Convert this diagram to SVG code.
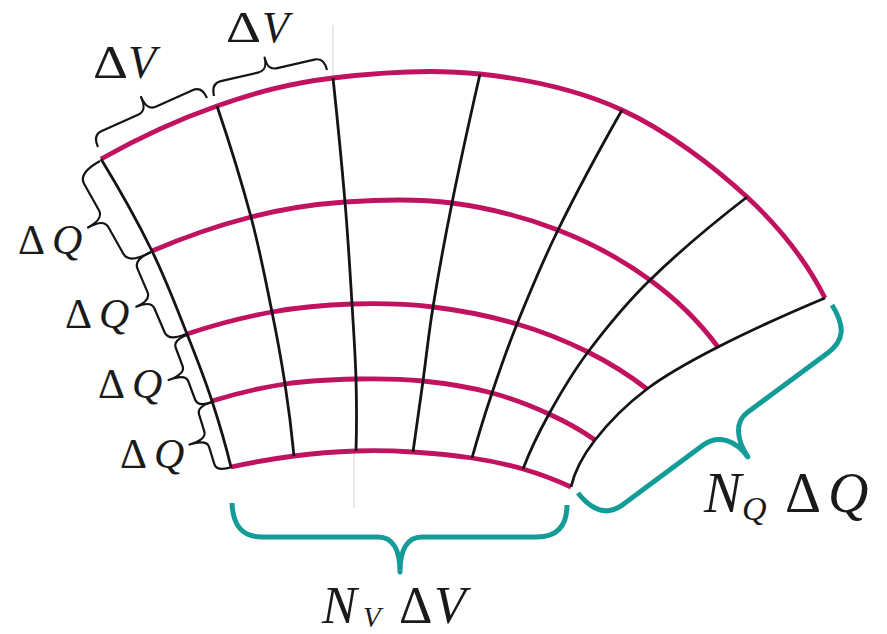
<svg xmlns="http://www.w3.org/2000/svg" width="887" height="634" viewBox="0 0 887 634">
<style>
.q{fill:none;stroke:#c0125f;stroke-width:4.8;stroke-linecap:butt}
.v{fill:none;stroke:#141414;stroke-width:2.8}
.br{fill:none;stroke:#141414;stroke-width:2.2;stroke-linejoin:round}
.tb{fill:none;stroke:#149c98;stroke-width:5;stroke-linecap:butt;stroke-linejoin:round}
.faint{fill:none;stroke:#d4d4d4;stroke-width:1}
text{font-family:"Liberation Serif","Times New Roman",serif;fill:#1a1a1a}
.it{font-style:italic}
</style>
<rect width="887" height="634" fill="#ffffff"/>
<g id="faint-lines">
<path class="faint" d="M333,25 L333,77 M354,452 L354,508"/>
</g>
<g id="q-lines">
<path class="q" d="M101,159 C139.7,137.2 178.3,119.5 217,106 C255.7,92.5 289.2,83.3 333,78 C376.8,72.7 431.8,68.7 480,74 C528.2,79.3 577.5,89.5 622,110 C666.5,130.5 713.2,165.7 747,197 C780.8,228.3 806.8,262 825,298"/>
<path class="q" d="M152,251 C185.8,236.5 218.8,225.2 251,217 C283.2,208.8 311.5,204.3 345,202 C378.5,199.7 416.5,198.3 452,203 C487.5,207.7 525,217.2 558,230 C591,242.8 623.3,260.5 650,280 C676.7,299.5 699.3,321.8 718,347"/>
<path class="q" d="M187,334 C216.2,324.3 244.5,317 272,312 C299.5,307 325.2,304.8 352,304 C378.8,303.2 405.5,303.7 433,307 C460.5,310.3 491.2,316.5 517,324 C542.8,331.5 566.3,341.2 588,352 C609.7,362.8 629.3,375.2 647,389"/>
<path class="q" d="M212,401 C236.7,393.3 261,387.7 285,384 C309,380.3 333,379.5 356,379 C379,378.5 400.3,378.7 423,381 C445.7,383.3 471,387.5 492,393 C513,398.5 531.8,406.2 549,414 C566.2,421.8 581.5,430.5 595,440"/>
<path class="q" d="M231,467 C252.2,462.3 273.2,458.7 294,456 C314.8,453.3 336.2,451.7 356,451 C375.8,450.3 393.7,450.8 413,452 C432.3,453.2 453.7,455.2 472,458 C490.3,460.8 506.5,464.2 523,469 C539.5,473.8 555.5,479.8 571,487"/>
</g>
<g id="v-lines">
<path class="v" d="M101,159 C120.7,191.2 137.7,221.8 152,251 C166.3,280.2 177,309 187,334 C197,359 204.7,378.8 212,401 C219.3,423.2 225.7,445.2 231,467"/>
<path class="v" d="M217,106 C230.5,145.7 241.8,182.7 251,217 C260.2,251.3 266.3,284.2 272,312 C277.7,339.8 281.3,360 285,384 C288.7,408 291.7,432 294,456"/>
<path class="v" d="M333,78 C337.8,123 341.8,164.3 345,202 C348.2,239.7 350.2,274.5 352,304 C353.8,333.5 355.3,354.5 356,379 C356.7,403.5 356.7,427.5 356,451"/>
<path class="v" d="M480,74 C469.2,121.2 459.8,164.2 452,203 C444.2,241.8 437.8,277.3 433,307 C428.2,336.7 426.3,356.8 423,381 C419.7,405.2 416.3,428.8 413,452"/>
<path class="v" d="M622,110 C596.8,154.3 575.5,194.3 558,230 C540.5,265.7 528,296.8 517,324 C506,351.2 499.5,370.7 492,393 C484.5,415.3 477.8,437 472,458"/>
<path class="v" d="M747,197 C708.8,226.5 676.5,254.2 650,280 C623.5,305.8 604.8,329.7 588,352 C571.2,374.3 559.8,394.5 549,414 C538.2,433.5 529.5,451.8 523,469"/>
<path class="v" d="M825,298 C783.3,315.5 747.7,331.8 718,347 C688.3,362.2 667.5,373.5 647,389 C626.5,404.5 607.7,423.7 595,440 C582.3,456.3 574.3,472 571,487"/>
</g>
<g id="braces">
<path id="brace-dv1" class="br" transform="matrix(0.912,-0.410,-0.410,-0.912,98,147)" d="M0,0 C0,7.8 3,13 10,13 L49.75,13 C56.75,13 59.75,17.5 59.75,28 C59.75,17.5 62.75,13 69.75,13 L109.5,13 C116.5,13 119.5,7.8 119.5,0"/>
<path id="brace-dv2" class="br" transform="matrix(0.974,-0.224,-0.224,-0.974,214,96)" d="M0,0 C0,7.8 3,13 10,13 L48,13 C55,13 58,16.9 58,26 C58,16.9 61,13 68,13 L106,13 C113,13 116,7.8 116,0"/>
<path id="brace-dq1" class="br" transform="matrix(0.489,0.872,-0.872,0.489,100,161)" d="M0,0 C0,15 3.6,25 12,25 L42.15,25 C49.15,25 52.15,30.4 52.15,43 C52.15,30.4 55.15,25 62.15,25 L92.3,25 C100.7,25 104.3,15 104.3,0"/>
<path id="brace-dq2" class="br" transform="matrix(0.392,0.919,-0.919,0.392,151,252)" d="M0,0 C0,11.4 3,19 10,19 L35.6,19 C41.9,19 44.6,23.8 44.6,35 C44.6,23.8 47.3,19 53.6,19 L79.2,19 C86.2,19 89.2,11.4 89.2,0"/>
<path id="brace-dq3" class="br" transform="matrix(0.350,0.937,-0.937,0.350,187,335)" d="M0,0 C0,9 2.4,15 8,15 L27.75,15 C33.35,15 35.75,20.4 35.75,33 C35.75,20.4 38.15,15 43.75,15 L63.5,15 C69.1,15 71.5,9 71.5,0"/>
<path id="brace-dq4" class="br" transform="matrix(0.294,0.956,-0.956,0.294,212,402)" d="M0,0 C0,9.6 2.4,16 8,16 L26,16 C31.6,16 34,21.4 34,34 C34,21.4 36.4,16 42,16 L60,16 C65.6,16 68,9.6 68,0"/>
<path id="brace-nv" class="tb" d="M232,503 C233,527 243,537 262,537 L378,537 C393,537 400,550 400,572 C400,550 407,537 422,537 L537,537 C556,537 567,527 567,505"/>
<path id="brace-nq" class="tb" transform="matrix(-0.804,0.595,0.595,0.804,832,305)" d="M0,0 C2,26 12,36 32,36 L132,36 C148,36 157,52 158,72 C158,52 168,36 186,36 L287,36 C304,36 315,26 316,0"/>
</g>
<g id="labels">
<text id="label-dv1" y="78" font-size="46"><tspan x="93" textLength="35" lengthAdjust="spacingAndGlyphs">Δ</tspan><tspan class="it" x="128">V</tspan></text>
<text id="label-dv2" y="42" font-size="44"><tspan x="226" textLength="35" lengthAdjust="spacingAndGlyphs">Δ</tspan><tspan class="it" x="262">V</tspan></text>
<text id="label-dq1" y="254" font-size="42"><tspan x="18">Δ</tspan><tspan class="it" x="52">Q</tspan></text>
<text id="label-dq2" y="328" font-size="42"><tspan x="65">Δ</tspan><tspan class="it" x="99">Q</tspan></text>
<text id="label-dq3" y="398" font-size="42"><tspan x="98">Δ</tspan><tspan class="it" x="132">Q</tspan></text>
<text id="label-dq4" y="468" font-size="42"><tspan x="120">Δ</tspan><tspan class="it" x="154">Q</tspan></text>
<text id="label-nvdv" y="623" font-size="52"><tspan class="it" x="322">N</tspan><tspan class="it" x="363" y="627" font-size="29">V</tspan><tspan x="399" y="623">Δ</tspan><tspan class="it" x="434" y="623">V</tspan></text>
<text id="label-nqdq" y="512" font-size="56"><tspan class="it" x="704">N</tspan><tspan class="it" x="742" y="520" font-size="34">Q</tspan><tspan x="785" y="512">Δ</tspan><tspan class="it" x="828" y="512">Q</tspan></text>
</g>
</svg>
